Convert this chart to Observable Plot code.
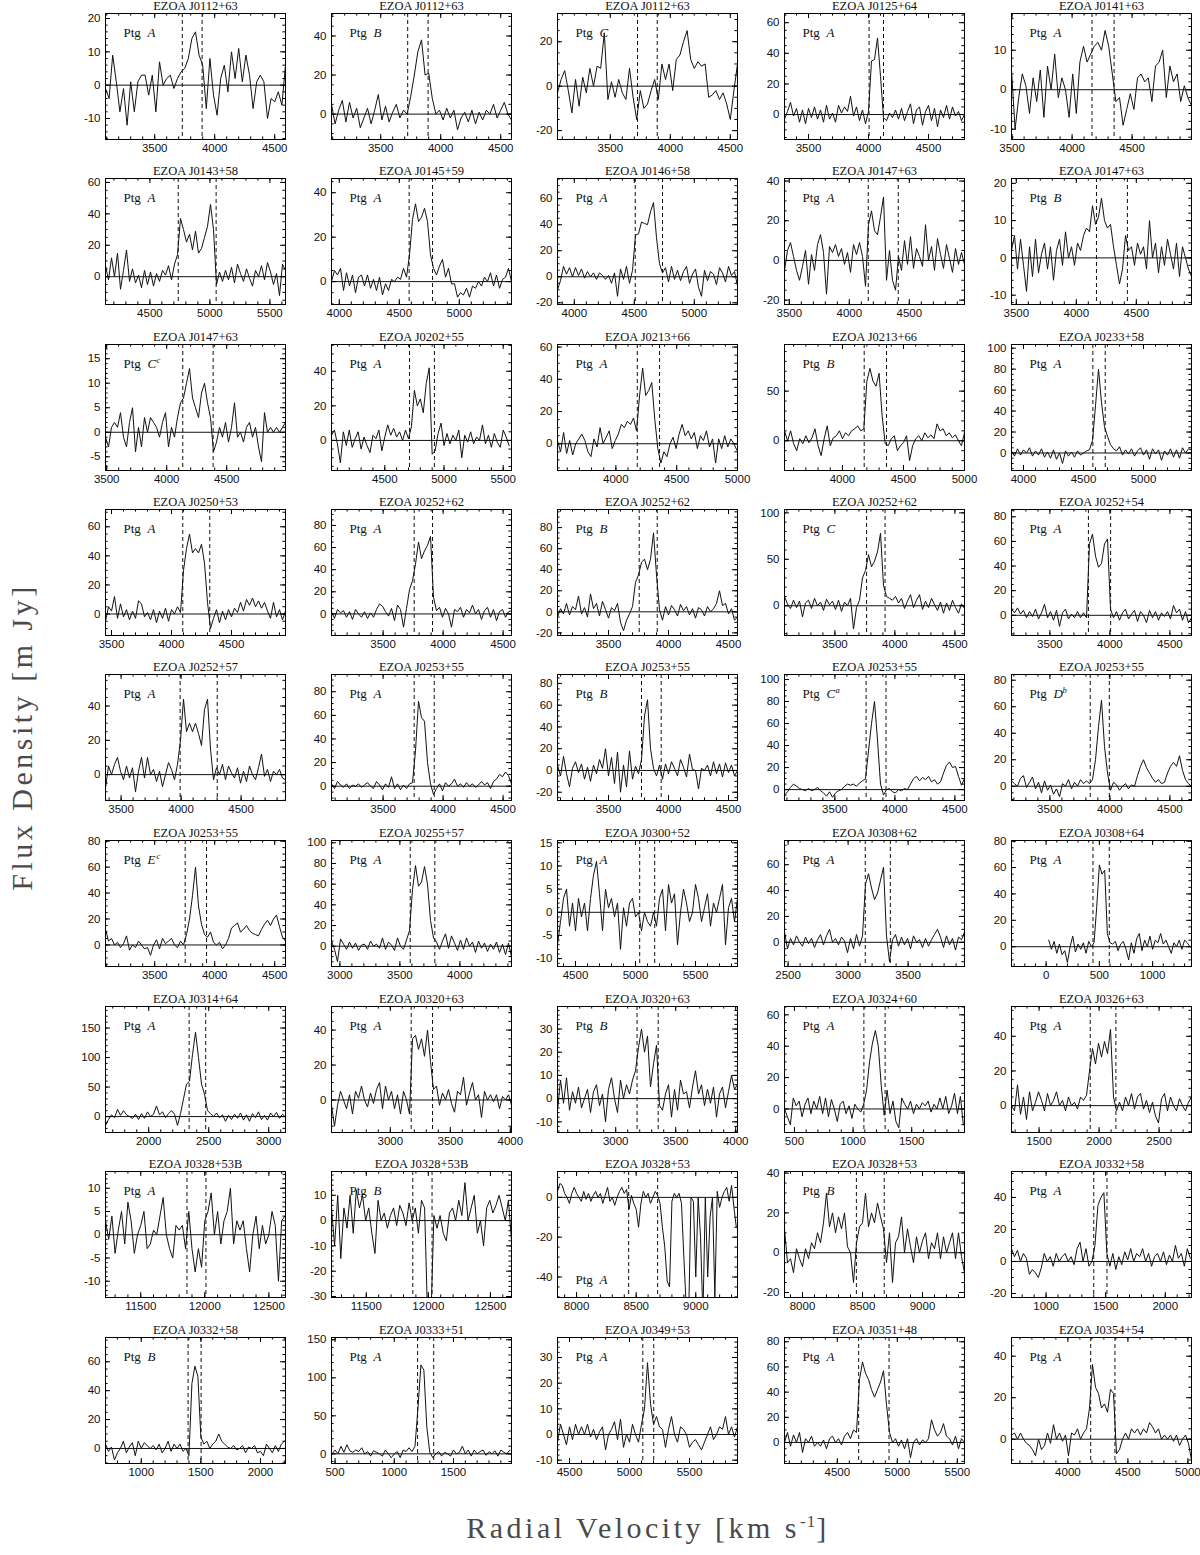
<!DOCTYPE html>
<html><head><meta charset="utf-8">
<script src="https://cdn.jsdelivr.net/npm/d3@7"></script>
<script src="https://cdn.jsdelivr.net/npm/@observablehq/plot@0.6"></script>
<style>
body{margin:0;background:#fff;}
#root{position:relative;width:1200px;height:1555px;overflow:hidden;background:#fff;}
.cell{position:absolute;}
.cell g[aria-label="panel title"] text{letter-spacing:0.7px;}
.axlab{position:absolute;white-space:nowrap;font-family:"Liberation Serif","DejaVu Serif",serif;font-size:30px;letter-spacing:3.5px;color:#4a4a4a;}
.axlab sup{font-size:17px;letter-spacing:1px;}
</style></head><body><div id="root"></div>
<script>
// ---------------- data ----------------
const titles = ["EZOA J0112+63","EZOA J0112+63","EZOA J0112+63","EZOA J0125+64","EZOA J0141+63",
"EZOA J0143+58","EZOA J0145+59","EZOA J0146+58","EZOA J0147+63","EZOA J0147+63",
"EZOA J0147+63","EZOA J0202+55","EZOA J0213+66","EZOA J0213+66","EZOA J0233+58",
"EZOA J0250+53","EZOA J0252+62","EZOA J0252+62","EZOA J0252+62","EZOA J0252+54",
"EZOA J0252+57","EZOA J0253+55","EZOA J0253+55","EZOA J0253+55","EZOA J0253+55",
"EZOA J0253+55","EZOA J0255+57","EZOA J0300+52","EZOA J0308+62","EZOA J0308+64",
"EZOA J0314+64","EZOA J0320+63","EZOA J0320+63","EZOA J0324+60","EZOA J0326+63",
"EZOA J0328+53B","EZOA J0328+53B","EZOA J0328+53","EZOA J0328+53","EZOA J0332+58",
"EZOA J0332+58","EZOA J0333+51","EZOA J0349+53","EZOA J0351+48","EZOA J0354+54"];
const pointing = ["A","B","C","A","A", "A","A","A","A","B", "C","A","A","B","A",
"A","A","B","C","A", "A","A","B","C","D", "E","A","A","A","A",
"A","A","B","A","A", "A","B","A","B","A", "B","A","A","A","A"];
const pointingNote = ["","","","","", "","","","","", "c","","","","",
"","","","","", "","","","a","b", "c","","","","",
"","","","","", "","","","","", "","","","",""];
const xDomains = [[3090,4590],[3090,4590],[3060,4560],[3300,4800],[3495,4995],
[4130,5630],[3935,5435],[3860,5360],[3460,4960],[3460,4960],
[3490,4990],[4050,5570],[3520,5000],[3525,5000],[3900,5400],
[3450,4950],[3070,4570],[3075,4575],[3080,4580],[3180,4680],
[3370,4870],[3070,4570],[3075,4575],[3080,4580],[3180,4680],
[3090,4590],[2930,4430],[4350,5850],[2470,3970],[-325,1365],
[1640,3140],[2510,4010],[2515,4015],[415,1950],[1270,2770],
[11225,12630],[11220,12670],[7840,9350],[7850,9350],[710,2220],
[700,2210],[470,1990],[4400,5900],[4060,5560],[3530,5030]];
const yDomains = [[-16.3,21.5],[-13,51.5],[-24,32.7],[-16.3,66],[-12.6,19.3],
[-17.7,62.5],[-10.3,46.4],[-21.3,75.5],[-22.2,41.3],[-12.5,21.3],
[-7.8,17.9],[-17.4,55.5],[-16.6,61.6],[-30,97],[-16.7,103.5],
[-14.8,71.9],[-19.5,94.4],[-22.5,97.2],[-32,103.6],[-16.4,85.9],
[-15.1,58.4],[-12.1,94.6],[-27.6,88.2],[-9.9,104.5],[-10.75,84.3],
[-16.6,80.5],[-19.6,102.2],[-11.7,15.5],[-18.7,78.7],[-15,80.5],
[-27,186.5],[-18.6,53.5],[-14.6,39.7],[-15,65.3],[-15.5,57.2],
[-13.5,13.6],[-30.4,19.4],[-50.3,13],[-22.5,40.8],[-22.5,56.2],
[-10.4,76.8],[-12.7,153],[-11.3,37.8],[-16.7,83.4],[-11.7,49]];
const yTickStep = [10,20,20,20,10, 20,20,20,20,10, 5,20,20,50,20, 20,20,20,50,20,
20,20,20,20,20, 20,20,5,20,20, 50,20,10,20,20, 5,10,20,20,20, 20,50,10,20,20];
const xTickStep = 500;
const velocityLimits = [[3730,3895],[3725,3895],[3727,3891],[4005,4125],[4166,4350],
[4736,5052],[4582,4777],[4508,4735],[4158,4408],[4168,4426],
[4134,4387],[4709,4919],[4176,4359],[4178,4361],[4578,4681],
[4094,4319],[3759,3912],[3756,3906],[3764,3918],[3821,4006],
[3992,4301],[3759,3926],[3775,3939],[3760,3926],[3836,3995],
[3754,3932],[3586,3791],[5035,5160],[3143,3352],[440,593],
[2337,2475],[3174,3352],[3178,3354],[1092,1273],[1926,2140],
[11861,12009],[11875,12030],[8437,8680],[8449,8681],[1400,1511],
[1393,1502],[1197,1333],[5111,5202],[4678,4931],[4190,4392]];
// spectra: first channel velocity and channel width (km/s), then flux densities (mJy)
const velStart = [3090,3090,3060,3300,3495, 4130,3935,3860,3460,3460, 3490,4050,3520,3525,3900,
3450,3070,3075,3080,3180, 3370,3070,3075,3080,3180, 3090,2930,4350,2470,25,
1640,2510,2515,415,1270, 11225,11220,7840,7850,710, 700,475,4400,4060,3530];
const velStep = [30,30,30,25,30, 25,25,25,25,25, 25,25,25,25,25, 25,25,25,25,25,
25,25,25,25,25, 25,25,25,25,25, 25,25,25,25,25, 25,25,20,25,25, 25,25,25,25,25];
const s01 = [-1,-4,9,1,-8,-1,-12,1,-8,1,3,3,-3,3,-8,7,0,2,3,-1,2,4,5,8,14,16,9,6,-7,8,-3,-9,2,6,-2,10,2,11,1,9,3,-7,1,3,1,-10,-4,-5,-2,-6,6];
const s02 = [5,-5,2,7,-4,6,-2,3,-7,-2,3,-5,2,10,-3,4,-4,1,5,-2,2,0,9,20,32,38,20,21,8,0,2,-3,3,-2,2,-8,-2,1,-4,2,-5,1,-3,2,0,5,-2,2,6,0,-3];
const s03 = [-3,3,7,-2,-12,3,-9,4,-3,8,0,9,8,24,-6,2,-5,3,-3,-6,8,-5,-15,-2,-10,-8,-2,3,-6,10,3,10,-2,12,14,20,25,12,8,11,9,10,-5,-4,-2,-6,-3,-8,-15,-2,10];
const s04 = [-3,2,8,-1,4,-5,3,-6,4,-2,5,-3,3,-5,6,-3,1,-5,6,1,5,2,12,-1,5,-4,3,-6,2,35,36,50,25,-2,-4,1,-2,3,-3,4,-4,2,7,-6,3,5,-7,2,6,-4,4,-8,3,-2,6,-3,5,-1,2,-4,0];
const s05 = [5,-10,-2,4,1,-6,3,-3,5,-7,6,0,9,-2,3,0,-7,4,-6,7,11,7,9,11,12,10,15,11,4,-3,-2,-9,-5,-1,-5,3,4,2,3,-3,6,7,10,-2,6,2,4,-3,1,-2,-4];
const s06 = [7,-2,12,0,15,-8,4,17,-3,5,-4,1,-7,4,-5,3,-6,2,-3,4,1,7,-2,8,14,37,30,22,27,17,29,15,18,25,32,46,30,-5,3,-3,4,-2,6,-4,8,2,-3,5,-1,-6,4,0,7,-2,9,3,-5,2,-12,8,4];
const s07 = [0,5,3,6,-4,4,-2,3,-5,2,3,-2,3,-3,1,-4,2,-6,-1,-4,1,0,2,1,6,2,12,28,35,27,29,33,27,12,6,3,7,10,2,6,-1,-1,-7,-5,-6,-3,-7,-2,-3,0,-2,2,0,4,-2,3,-3,1,2,6,0];
const s08 = [-10,-3,8,2,7,0,7,1,6,-1,4,0,3,-2,3,1,-2,1,-5,3,-15,6,-2,8,-5,5,32,33,42,41,40,50,57,30,10,3,7,-4,8,-2,5,-3,4,8,-5,2,6,-8,-15,5,-3,4,2,-6,7,3,-4,8,1,4,-7];
const s09 = [-5,5,9,2,-5,-10,-3,5,-12,3,-5,8,13,4,-17,7,4,8,2,6,-2,4,-6,8,3,9,2,-13,18,25,15,13,22,32,-10,5,-10,-15,2,-5,10,-2,12,-4,6,2,-3,18,0,7,-5,11,3,-4,8,1,-6,6,-2,4,-2];
const s10 = [2,6,-3,5,-2,-9,3,-5,5,-4,1,4,-3,3,-6,2,5,-2,7,0,3,-2,4,2,6,8,7,14,9,11,16,10,8,9,3,-2,-7,-3,6,2,3,-2,4,1,3,-3,10,0,4,-4,3,-2,5,1,-3,4,-5,3,0,-3,-5];
const s11 = [-1,-3,1,2,1,4,-1,-3,2,5,-4,1,-3,3,0,3,2,1,-1,2,4,-3,1,-1,3,6,7,10,13,7,5,3,8,10,6,3,-4,-2,1,-1,2,-2,1,6,-1,0,-2,1,2,-1,1,-3,-6,4,0,1,0,1,0,1,2];
const s12 = [3,6,-2,-13,5,-3,6,-4,1,5,-5,2,-3,-7,3,1,6,-6,2,9,3,7,2,5,0,6,1,8,29,20,24,16,33,42,-8,-6,4,10,-3,4,-2,3,0,6,-10,3,-1,5,-2,2,0,9,-2,3,-4,4,-1,-4,6,2,-3];
const s13 = [2,-5,7,-6,2,-7,0,3,6,2,-5,-8,3,-2,10,0,4,8,-3,2,6,12,10,14,12,16,8,30,47,30,33,38,15,-3,-12,-5,-8,0,4,-3,6,12,5,8,3,7,-3,5,2,8,-2,3,-12,3,-3,5,-2,3,0,-4];
const s14 = [10,0,10,-3,-10,2,-3,5,-2,3,12,-5,-15,2,15,-5,3,5,10,2,8,5,10,12,15,10,12,60,73,60,55,68,25,-3,-5,2,5,-10,-5,-2,5,-20,-5,2,5,0,8,3,6,2,17,10,12,5,8,3,6,0,-5,8];
const s15 = [2,-3,4,-2,3,0,5,-3,2,-2,4,-4,1,-5,3,-6,0,-10,2,-3,1,-4,2,-2,0,2,3,12,45,80,48,25,16,8,4,2,6,-2,3,-1,4,-3,2,5,-2,3,-6,4,-1,3,-7,2,-2,4,-4,3,-5,5,0,4,3];
const s16 = [-5,5,2,12,-3,7,-2,3,-4,2,-3,9,7,-2,1,-4,3,-6,2,-3,4,-5,3,0,5,1,30,45,55,42,45,42,48,35,8,-10,-3,3,-6,2,-4,3,-2,4,1,8,2,10,6,11,5,9,4,8,2,-3,8,-2,3,-4,2];
const s17 = [2,-4,4,1,3,-3,2,-5,4,0,-3,2,-4,1,-3,4,9,7,2,-2,5,-6,8,4,-12,5,22,30,45,65,50,57,62,70,15,3,6,-3,5,0,-12,4,2,6,-3,4,1,8,0,4,-5,3,6,-3,4,-6,2,4,-3,2,3];
const s18 = [-5,3,-2,8,-3,5,2,15,-2,4,-5,17,3,8,-4,10,2,-6,4,1,8,-10,-18,-8,-2,5,28,35,47,50,40,50,75,35,2,-8,5,-3,6,2,-4,7,1,5,-3,3,-6,4,2,-4,5,0,3,8,20,6,8,-2,3,-8,-5];
const s19 = [10,2,-3,6,-2,5,-12,3,6,-3,8,0,4,-5,7,1,5,-4,6,-6,4,0,8,-25,-2,6,30,38,55,42,48,58,78,22,10,8,6,10,3,8,-3,5,12,-2,6,12,-4,5,-2,8,1,-5,4,-8,3,-5,6,-2,-8,2,-3];
const s20 = [5,2,6,1,4,-2,3,-1,5,-3,2,9,-2,3,-4,4,-9,2,5,-3,1,-2,3,-2,2,-2,58,66,48,39,42,58,62,5,-2,3,-4,2,5,-3,1,4,-5,3,0,-6,4,-2,3,-4,2,-1,3,-3,8,2,5,-4,3,-6,-2];
const s21 = [-8,5,0,6,10,2,-3,5,-2,4,-10,2,10,-2,10,0,3,-4,2,-7,0,7,3,-3,6,20,44,25,30,25,30,24,17,38,44,15,-3,4,0,6,-3,5,1,-2,4,-5,2,-4,5,0,-3,4,12,-1,3,-4,2,0,3,-2,-3];
const s22 = [2,-2,4,1,-1,2,-2,1,0,2,-1,1,3,0,-2,4,1,-3,2,-1,8,-2,2,-3,1,-2,2,3,30,72,58,55,20,2,-7,-2,2,-4,3,0,2,6,0,2,-1,3,0,2,-1,1,4,1,3,-2,4,6,10,8,12,9,2];
const s23 = [5,-5,13,-3,-15,2,8,-2,6,-8,3,-10,5,-3,10,2,20,-5,12,-12,17,-20,5,-15,18,-8,4,-3,10,50,65,20,2,-5,5,-8,6,-3,8,2,-5,10,3,-6,15,1,0,-17,2,0,5,-5,8,-3,6,-6,7,-2,5,-5,0];
const s24 = [-5,-2,2,5,3,1,0,-1,1,-1,0,2,-1,-3,-6,-2,-7,-3,-1,0,3,5,4,5,3,6,8,10,35,60,80,45,5,-5,0,1,-2,-3,0,-1,1,0,5,10,12,8,11,9,12,7,9,5,7,15,22,25,20,21,12,4,10];
const s25 = [4,2,0,6,8,-1,3,7,-2,3,-5,4,-3,1,-6,-2,-8,2,0,5,-2,3,0,5,2,4,2,5,20,45,65,30,10,-3,3,1,-3,0,2,-2,1,0,8,15,20,14,10,6,3,5,2,3,10,15,18,15,23,12,5,2,0];
const s26 = [12,3,5,0,2,-2,1,7,-4,0,-2,3,0,-3,-2,-8,0,4,-3,5,1,3,5,0,-2,3,0,8,20,38,60,30,16,8,6,10,2,0,2,-3,0,5,13,15,17,10,12,15,11,9,8,7,12,16,19,15,20,23,14,6,3];
const s27 = [5,-3,-15,7,2,-3,4,-2,3,-4,1,2,-3,5,0,2,-2,8,-3,4,1,-4,8,0,-3,6,15,55,78,58,62,77,60,25,8,4,-3,5,12,-2,10,3,-4,6,-3,8,0,4,-6,5,-2,3,-5,2,-3,4,-6,2,-8,3,-10];
const s28 = [-7,-2,3,5,-3,2,-4,3,-1,2,-4,3,8,11,4,-4,5,1,3,-1,2,-8,1,-3,2,3,-1,0,-4,0,-2,-3,0,-3,3,5,-4,6,2,4,-7,0,5,2,-2,0,6,3,-2,1,4,-3,2,0,3,6,-7,1,3,-2,3];
const s29 = [8,-5,3,-2,5,0,-3,4,-1,3,-4,2,6,-2,5,10,0,3,-2,4,1,-8,3,-5,6,-3,5,45,53,42,33,38,48,58,5,-15,2,6,-3,4,-2,3,-5,5,0,2,-4,3,-3,2,6,10,4,-4,5,-2,3,-6,4,2,8];
const s30 = [5,-2,4,-5,2,-6,-3,-12,0,8,-4,2,-2,3,-5,4,0,3,30,62,55,58,10,3,2,4,-3,2,4,-2,-10,3,-5,6,10,-3,5,0,8,-2,5,3,10,2,5,0,-5,3,0,5,-2,5,3,0];
const s31 = [-15,-5,3,-2,12,2,10,3,0,-3,4,-5,5,-3,8,0,4,18,3,8,-2,5,10,4,-15,5,30,55,60,105,143,100,55,38,10,5,0,6,-2,3,-8,2,-5,4,-3,6,-6,3,-8,5,-2,8,-5,2,-6,6,0,7,-3,4,-1];
const s32 = [-3,-15,-3,5,0,-5,3,-8,5,1,8,0,-4,4,-2,6,10,-5,8,0,5,-5,3,-8,5,0,-8,35,37,29,35,25,40,22,6,8,-3,4,0,6,-2,-7,5,3,13,-3,4,10,0,3,-10,5,0,3,-1,3,-5,2,0,3,-3];
const s33 = [-5,8,-2,9,-5,3,-2,5,-4,0,4,-6,3,6,-3,2,-10,4,9,0,-6,8,0,6,2,8,12,22,30,20,27,5,15,23,-3,-5,2,6,-8,4,-5,8,2,3,-4,5,12,2,6,-3,4,-2,5,-8,2,5,-4,3,10,4,6];
const s34 = [0,-5,-10,7,2,5,-5,3,7,-3,5,0,8,-3,7,-5,6,0,-8,3,5,-3,2,-6,3,0,-2,3,12,30,42,50,40,15,-4,12,-3,5,-8,-12,7,3,0,5,-3,3,0,4,2,5,-2,3,0,7,0,8,-3,2,10,-3,8,-10];
const s35 = [0,-3,12,-5,5,-8,8,-3,2,8,3,-3,7,0,3,8,0,3,-3,5,0,2,-2,5,3,6,20,33,24,36,28,37,30,44,5,-3,2,-3,5,0,7,-2,5,7,-2,3,-4,2,-6,-10,4,7,-3,5,0,-3,4,0,-3,2,5];
const s36 = [3,-1,4,-4,1,5,-2,7,3,-4,0,2,5,-3,-2,1,0,4,8,0,-3,-5,2,1,2,-3,5,-3,-8,-3,-7,3,5,9,0,5,-2,3,5,10,-2,3,1,3,-3,-8,0,4,-3,2,-2,0,5,2,-10,3,4];
const s37 = [5,-10,10,-15,5,-3,10,-5,12,5,10,0,5,-5,-13,8,0,3,-3,2,5,-2,6,3,-2,7,0,5,-5,8,5,-40,-40,2,-3,2,-5,-8,3,5,0,8,2,15,0,5,10,-5,0,-10,5,8,3,6,10,5,0,8,-8];
const s38 = [3,7,6,2,0,-3,2,5,2,0,-2,3,-1,2,-2,1,3,0,2,-3,1,5,-2,0,-4,0,3,5,2,4,-6,1,-3,-6,-15,-3,3,0,2,-3,0,3,1,-3,-15,-25,-42,-45,-2,2,0,2,-3,-30,-55,-60,0,-2,-40,0,-20,-60,0,-40,-10,0,-50,3,-5,0,3,5,-2,6,-5,-15];
const s39 = [12,-5,-3,-10,2,-3,-7,2,-3,5,2,10,5,15,30,13,20,10,18,12,20,3,0,-15,5,13,15,30,13,20,15,25,18,12,-5,10,-15,5,8,18,0,12,3,-5,8,0,6,10,-3,5,2,10,-3,8,0,5,10,-3,10,-2,-10];
const s40 = [8,3,7,0,5,2,-8,-5,-7,-10,-4,5,0,3,-3,5,0,3,5,0,3,-2,8,12,0,8,-3,0,10,35,40,43,5,-3,5,-5,3,-2,6,1,8,0,5,3,8,0,5,-3,3,5,0,6,-2,4,0,10,2,5,-3,8,2];
const s41 = [3,-2,1,-8,-3,0,5,-3,1,4,-5,5,0,4,2,0,2,-1,3,-3,0,5,-2,3,0,3,-2,0,-5,45,57,50,8,3,5,0,3,5,10,5,3,1,0,2,-1,0,2,-3,1,0,2,-3,-2,-5,3,0,-3,2,-2,3,5];
const s42 = [0,5,0,10,2,12,4,2,5,3,8,0,3,-3,4,2,0,-3,5,0,-5,0,3,-5,5,3,8,3,10,60,117,110,35,2,-5,0,3,-3,2,0,-3,5,0,2,10,0,5,-3,5,0,3,5,-2,3,0,4,-3,5,2,0,5];
const s43 = [-3,4,0,-4,3,-2,4,0,3,0,4,-1,2,-2,1,3,-6,0,2,5,-2,6,-5,0,-3,4,0,-3,4,10,28,12,4,7,3,2,-5,2,7,0,-3,3,2,0,-5,-3,-2,-4,-6,-3,0,3,-2,0,3,2,7,0,3,-1,3];
const s44 = [0,8,-3,6,0,8,-8,3,0,5,-3,0,-3,2,-5,3,5,0,3,-2,5,8,3,10,8,50,64,55,50,42,36,42,48,57,30,8,0,3,-3,2,-5,3,-12,0,3,-2,2,0,3,18,10,5,8,15,5,3,-2,5,-5,3,0];
const s45 = [2,3,0,3,0,-2,-3,-5,-8,0,-5,-3,3,-2,7,0,3,-1,2,-8,3,2,5,0,3,5,15,36,25,22,15,17,13,24,22,-7,-5,0,3,0,5,3,5,2,5,3,8,6,3,5,0,2,0,2,-1,2,-3,0,2,-2,-10];
const fluxes = [s01,s02,s03,s04,s05,s06,s07,s08,s09,s10,s11,s12,s13,s14,s15,s16,s17,s18,s19,s20,
s21,s22,s23,s24,s25,s26,s27,s28,s29,s30,s31,s32,s33,s34,s35,s36,s37,s38,s39,s40,s41,s42,s43,s44,s45];

// ---------------- layout ----------------
const FW = 180, FH = 126;
const colLeft = [105, 331, 557, 784, 1011];
const rowTop = [13, 178, 344, 509, 674, 840, 1006, 1171, 1337];
const ML = 40, MR = 5, MT = 20, MB = 19;
const labelLow = new Set([37]); // panel whose "Ptg" label sits near the bottom

const root = document.getElementById("root");
const minorOf = s => s === 5 ? 1 : s === 10 ? 2 : s === 20 ? 5 : s === 50 ? 10 : s / 5;
const serif = "Liberation Serif, DejaVu Serif, serif";

titles.forEach((title, i) => {
  const r = Math.floor(i / 5), c = i % 5;
  const [x0, x1] = xDomains[i], [y0, y1] = yDomains[i];
  const data = fluxes[i].map((f, k) => ({v: velStart[i] + k * velStep[i], f}));
  const ys = yTickStep[i], ym = minorOf(ys);
  const xMajor = d3.range(Math.ceil(x0 / xTickStep) * xTickStep, x1 + 1e-6, xTickStep);
  const xMinor = d3.range(Math.ceil(x0 / 100) * 100, x1 + 1e-6, 100);
  const yMajor = d3.range(Math.ceil(y0 / ys) * ys, y1 + 1e-6, ys);
  const yMinor = d3.range(Math.ceil(y0 / ym - 1e-9) * ym, y1 + 1e-6, ym);
  const ux = (x1 - x0) / FW, uy = (y1 - y0) / FH;
  const big = 5, small = 2.6;
  const tk = {stroke: "black", strokeWidth: 1};
  const ptgDy = labelLow.has(i) ? 112 : 23;
  const marks = [
    Plot.ruleY([0], {stroke: "#111", strokeWidth: 1}),
    Plot.ruleX(velocityLimits[i], {stroke: "#111", strokeWidth: 1, strokeDasharray: "4,3"}),
    Plot.line(data, {x: "v", y: "f", stroke: "#111", strokeWidth: 1, clip: true}),
    // inward ticks on all four sides
    Plot.ruleX(xMajor, {x: d => d, y1: y0, y2: y0 + big * uy, ...tk}),
    Plot.ruleX(xMajor, {x: d => d, y1: y1 - big * uy, y2: y1, ...tk}),
    Plot.ruleX(xMinor, {x: d => d, y1: y0, y2: y0 + small * uy, ...tk}),
    Plot.ruleX(xMinor, {x: d => d, y1: y1 - small * uy, y2: y1, ...tk}),
    Plot.ruleY(yMajor, {y: d => d, x1: x0, x2: x0 + big * ux, ...tk}),
    Plot.ruleY(yMajor, {y: d => d, x1: x1 - big * ux, x2: x1, ...tk}),
    Plot.ruleY(yMinor, {y: d => d, x1: x0, x2: x0 + small * ux, ...tk}),
    Plot.ruleY(yMinor, {y: d => d, x1: x1 - small * ux, x2: x1, ...tk}),
    Plot.frame({stroke: "black", strokeWidth: 1}),
    Plot.text([title], {text: d => d, frameAnchor: "top", dy: -4, lineAnchor: "bottom", ariaLabel: "panel title",
      fontFamily: serif, fontSize: 12.5, fill: "#111"}),
    Plot.text(["Ptg"], {text: d => d, frameAnchor: "top-left", dx: 18, dy: ptgDy, lineAnchor: "bottom", textAnchor: "start",
      fontFamily: serif, fontSize: 13, fill: "#111"}),
    Plot.text([pointing[i]], {text: d => d, frameAnchor: "top-left", dx: 42, dy: ptgDy, lineAnchor: "bottom", textAnchor: "start",
      fontFamily: serif, fontSize: 13, fontStyle: "italic", fill: "#111"})
  ];
  if (pointingNote[i]) {
    marks.push(Plot.text([pointingNote[i]], {text: d => d, frameAnchor: "top-left", dx: 51, dy: ptgDy - 5, lineAnchor: "bottom", textAnchor: "start",
      fontFamily: serif, fontSize: 8.5, fontStyle: "italic", fill: "#111"}));
  }
  const svg = Plot.plot({
    width: FW + ML + MR, height: FH + MT + MB,
    marginLeft: ML, marginRight: MR, marginTop: MT, marginBottom: MB,
    style: {background: "transparent", overflow: "visible", fontFamily: "Liberation Sans, Arial, sans-serif", fontSize: "11.5px", color: "#111"},
    x: {domain: [x0, x1], ticks: xMajor, tickSize: 0, tickPadding: 4, tickFormat: d => String(d), label: null},
    y: {domain: [y0, y1], ticks: yMajor, tickSize: 0, tickPadding: 5, tickFormat: d => String(d), label: null},
    marks
  });
  const cell = document.createElement("div");
  cell.className = "cell";
  cell.style.left = (colLeft[c] - ML) + "px";
  cell.style.top = (rowTop[r] - MT) + "px";
  cell.appendChild(svg);
  root.appendChild(cell);
});

const yl = document.createElement("div");
yl.className = "axlab";
yl.textContent = "Flux Density [m Jy]";
yl.style.left = "22px"; yl.style.top = "737px";
yl.style.transform = "translate(-50%,-50%) rotate(-90deg)";
root.appendChild(yl);
const xl = document.createElement("div");
xl.className = "axlab";
xl.innerHTML = "Radial Velocity [km s<sup>-1</sup>]";
xl.style.left = "648px"; xl.style.top = "1528px";
xl.style.transform = "translate(-50%,-50%)";
root.appendChild(xl);
</script>
</body></html>
